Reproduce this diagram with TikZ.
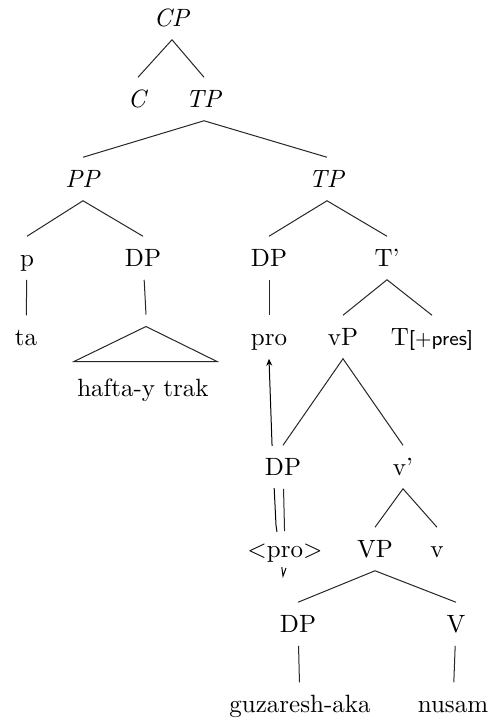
\documentclass[tikz,border=0pt]{standalone}
\usetikzlibrary{arrows.meta,backgrounds}
\begin{document}
\begin{tikzpicture}[x=0.4pt,y=-0.4pt]
      \tikzstyle{every node}=[fill=white,inner xsep=1pt,inner ysep=5pt,
                            text height=7pt,text depth=0pt]
      \tikzstyle{branch}=[black!85]
      \useasboundingbox (0,0) rectangle (494,721);

      \node (cp) at (172,18) {\textit{CP}};
      \node (c) at (138,99) {\textit{C}};
      \node (tp) at (204,99) {\textit{TP}};
      \node (pp) at (83,179) {\textit{PP}};
      \node (tp2) at (327,179) {\textit{TP}};
      \node (p) at (27,258) {p};
      \node (dp1) at (143,258) {DP};
      \node (dp2) at (269,258) {DP};
      \node (tbar) at (387,258) {T'};
      \node (ta) at (26,337) {ta};
      \node (roof) at (146,320.5) [inner sep=0pt,text height=0pt,
                                   minimum height=4.4pt,fill=none] {};
      \node (hafta) at (143,388) {hafta-y trak};
      \node (pro) at (269,337) {pro};
      \node (vp) at (343,337) {vP};
      \node (tpres) at (432,337) {T{\sffamily\footnotesize[+pres]}};
      \node (dp3) at (283,467) {DP};
      \node (vbar) at (403,467) {v'};
      \node (tpro) at (285,549) [inner ysep=3.5pt] {\textless pro\textgreater};
      \node (vvp) at (375,549) {VP};
      \node (v) at (437,549) {v};
      \node (dp4) at (298,624) {DP};
      \node (verb) at (456,624) {V};
      \node (guz) at (300,704) {guzaresh-aka};
      \node (nusam) at (453,704) {nusam};

      \draw[branch] (c.north) -- (cp.south) -- (tp.north);
      \draw[branch] (pp.north) -- (tp.south) -- (tp2.north);
      \draw[branch] (p.north) -- (pp.south) -- (dp1.north);
      \draw[branch] (dp2.north) -- (tp2.south) -- (tbar.north);
      \draw[branch] (vp.north) -- (tbar.south) -- (tpres.north);
      \draw[branch] (dp3.north) -- (vp.south) -- (vbar.north);
      \draw[branch] (vvp.north) -- (vbar.south) -- (v.north);
      \draw[branch] (dp4.north) -- (vvp.south) -- (verb.north);
      \draw[branch] (p) -- (ta);
      \draw[branch] (dp1) -- (roof.north);
      \draw[branch] (roof.south) -- ++(-72,35) -- ++(143,0) -- cycle;
      \draw[branch] (dp2) -- (pro);
      \draw[branch] (dp3) -- (tpro);
      \draw[branch] (dp4) -- (guz);
      \draw[branch] (verb) -- (nusam);

      \begin{scope}[on background layer]
        \draw[-{Stealth[length=2.8pt,width=2.4pt]}] (286,568) -- (283,576)
          -- (276,525) -- (272,444) -- (pro.south);
      \end{scope}
\end{tikzpicture}
\end{document}
